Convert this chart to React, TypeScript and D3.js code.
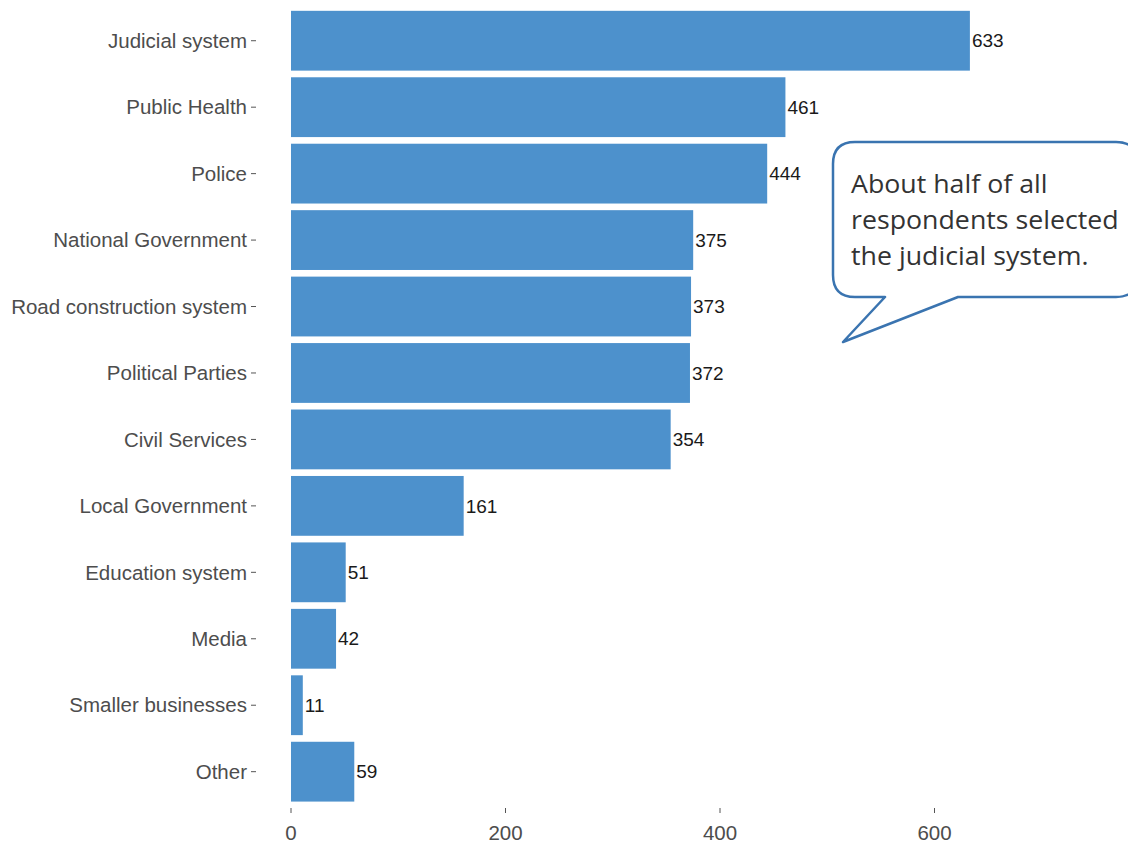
import React from "react";
import * as d3 from "d3";

const categories = [
  "Judicial system",
  "Public Health",
  "Police",
  "National Government",
  "Road construction system",
  "Political Parties",
  "Civil Services",
  "Local Government",
  "Education system",
  "Media",
  "Smaller businesses",
  "Other",
];
const counts = [633, 461, 444, 375, 373, 372, 354, 161, 51, 42, 11, 59];
const xTicks = [0, 200, 400, 600];
const calloutLines = ["About half of all", "respondents selected", "the judicial system."];

const W = 1128;
const H = 844;

export default function App() {
  const x = d3.scaleLinear().domain([0, 700]).range([291, 291 + 700 * 1.0725]);
  const y = d3
    .scaleBand<string>()
    .domain(categories)
    .range([7.5, 7.5 + 12 * 66.45])
    .paddingInner(0.1)
    .paddingOuter(0.05);

  const bw = y.bandwidth();
  const axisY = 806;

  // callout geometry
  const cx0 = 833, cy0 = 142, cx1 = 1138, cy1 = 297, r = 22;
  const tailA = 885, tailB = 958, tipX = 843, tipY = 342;
  const calloutPath = [
    `M ${cx0 + r} ${cy0}`,
    `L ${cx1 - r} ${cy0}`,
    `Q ${cx1} ${cy0} ${cx1} ${cy0 + r}`,
    `L ${cx1} ${cy1 - r}`,
    `Q ${cx1} ${cy1} ${cx1 - r} ${cy1}`,
    `L ${tailB} ${cy1}`,
    `L ${tipX} ${tipY}`,
    `L ${tailA} ${cy1}`,
    `L ${cx0 + r} ${cy1}`,
    `Q ${cx0} ${cy1} ${cx0} ${cy1 - r}`,
    `L ${cx0} ${cy0 + r}`,
    `Q ${cx0} ${cy0} ${cx0 + r} ${cy0}`,
    "Z",
  ].join(" ");

  return (
    <svg
      width={W}
      height={H}
      style={{ position: "absolute", left: 0, top: 0, background: "#fff" }}
      fontFamily="'Liberation Sans', Arial, sans-serif"
    >
      {categories.map((c, i) => {
        const yy = y(c)!;
        const v = counts[i];
        return (
          <g key={c}>
            <rect x={x(0)} y={yy} width={x(v) - x(0)} height={bw} fill="#4d91cc" />
            <text
              x={x(v) + 2}
              y={yy + bw / 2}
              dy="0.35em"
              fontSize={19}
              fill="#1a1a1a"
            >
              {v}
            </text>
            <line x1={251} x2={256} y1={yy + bw / 2} y2={yy + bw / 2} stroke="#555" strokeWidth={1} />
            <text
              x={247}
              y={yy + bw / 2}
              dy="0.35em"
              textAnchor="end"
              fontSize={20.5}
              fill="#4d4d4d"
            >
              {c}
            </text>
          </g>
        );
      })}
      {xTicks.map((t) => (
        <g key={t}>
          <line x1={x(t)} x2={x(t)} y1={axisY + 2} y2={axisY + 7} stroke="#555" strokeWidth={1} />
          <text x={x(t)} y={axisY + 34} textAnchor="middle" fontSize={20.5} fill="#4d4d4d">
            {t}
          </text>
        </g>
      ))}
      <path d={calloutPath} fill="#fff" stroke="#3a74b0" strokeWidth={2.5} strokeLinejoin="round" />
      <g transform="translate(851,0) scale(1.07,1)">
        {calloutLines.map((l, i) => (
          <text
            key={i}
            x={0}
            y={193 + i * 36}
            fontSize={25}
            fill="#333"
            fontFamily="'Open Sans', Lato, sans-serif"
          >
            {l}
          </text>
        ))}
      </g>
    </svg>
  );
}
